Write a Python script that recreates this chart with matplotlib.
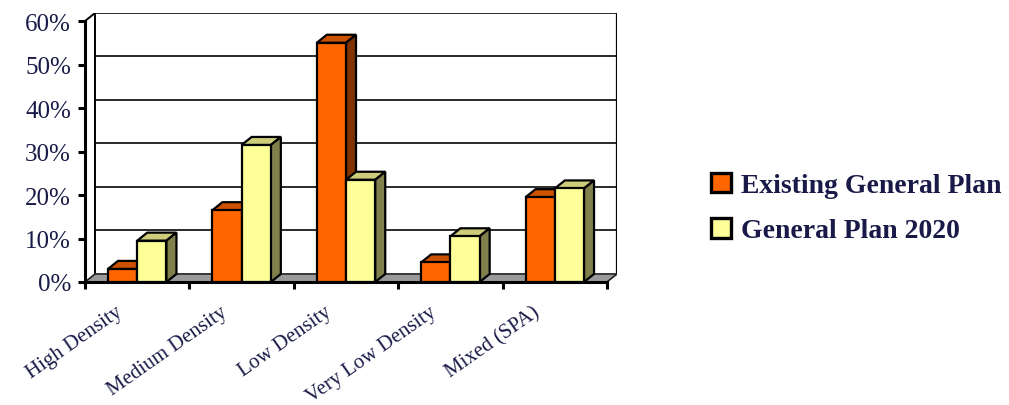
import matplotlib
matplotlib.use("Agg")
import matplotlib.pyplot as plt
from matplotlib.patches import Polygon, Patch
from matplotlib.transforms import offset_copy

# ── Data ──────────────────────────────────────────────────────────────────────
CATEGORIES = ["High Density", "Medium Density", "Low Density",
              "Very Low Density", "Mixed (SPA)"]
SERIES = ["Existing General Plan", "General Plan 2020"]
EXISTING = [3.0, 16.5, 55.0, 4.5, 19.5]
PLAN_2020 = [9.5, 31.5, 23.5, 10.5, 21.5]
Y_TICKS = [0, 10, 20, 30, 40, 50, 60]
Y_LABELS = ["0%", "10%", "20%", "30%", "40%", "50%", "60%"]

# ── Style ─────────────────────────────────────────────────────────────────────
FRONT = ["#FF6600", "#FFFF99"]
TOP = ["#CC5200", "#CCCC7A"]
SIDE = ["#803300", "#80804C"]
TEXT = "#1a1a48"
SERIF = ["Liberation Serif", "DejaVu Serif"]
DX, DY = 0.096, 1.85          # depth of the pseudo-3D box, in data units
BAR_W = 0.28
EDGE_LW = 1.6

fig = plt.figure(figsize=(10.09, 4.06), dpi=100)
ax = fig.add_axes([85 / 1009, 123 / 406, 532 / 1009, 269 / 406])
n = len(CATEGORIES)
ax.set_xlim(0, n + DX)
ax.set_ylim(0, Y_TICKS[-1] + DY)

# back wall, gridlines and floor
for v in Y_TICKS[1:]:
    ax.plot([DX, n + DX], [v + DY, v + DY], color="#2a2a2a", lw=1.4, zorder=1)
ax.plot([DX, DX], [DY, Y_TICKS[-1] + DY], color="black", lw=1.4, zorder=1)
ax.plot([n + DX, n + DX], [DY, Y_TICKS[-1] + DY], color="black", lw=1.6, zorder=1)
ax.plot([0, DX], [Y_TICKS[-1], Y_TICKS[-1] + DY], color="black", lw=1.4, zorder=1)
floor = Polygon([(0, 0), (n, 0), (n + DX, DY), (DX, DY)], closed=True,
                facecolor="#9a9a9a", edgecolor="#222222", lw=1.2, zorder=1)
ax.add_patch(floor)

# bars with top and side faces
for s, vals in enumerate([EXISTING, PLAN_2020]):
    xs = [i + 0.5 - BAR_W + s * BAR_W for i in range(n)]
    z = 3 + s * 3
    ax.bar(xs, vals, width=BAR_W, align="edge", color=FRONT[s],
           edgecolor="black", lw=EDGE_LW, zorder=z + 2)
    for x0, v in zip(xs, vals):
        top = Polygon([(x0, v), (x0 + BAR_W, v), (x0 + BAR_W + DX, v + DY),
                       (x0 + DX, v + DY)], closed=True, facecolor=TOP[s],
                      edgecolor="black", lw=EDGE_LW, zorder=z)
        side = Polygon([(x0 + BAR_W, 0), (x0 + BAR_W + DX, DY),
                        (x0 + BAR_W + DX, v + DY), (x0 + BAR_W, v)], closed=True,
                       facecolor=SIDE[s], edgecolor="black", lw=EDGE_LW, zorder=z)
        ax.add_patch(top)
        ax.add_patch(side)

# axes
for sp in ["top", "right"]:
    ax.spines[sp].set_visible(False)
ax.spines["left"].set_bounds(0, Y_TICKS[-1])
ax.spines["bottom"].set_bounds(0, n)
for sp in ["left", "bottom"]:
    ax.spines[sp].set_linewidth(2.2)
    ax.spines[sp].set_zorder(20)
ax.set_yticks(Y_TICKS)
ax.set_yticklabels(Y_LABELS, family=SERIF, fontsize=18, color=TEXT)
ax.set_xticks(range(n + 1))
ax.set_xticklabels([])
ax.tick_params(axis="both", direction="out", length=5, width=2.2, color="black")
ax.tick_params(axis="y", pad=5)

# rotated category labels
lab_trans = offset_copy(ax.get_xaxis_transform(), fig=fig, y=-20, units="dots")
for i, name in enumerate(CATEGORIES):
    ax.text(i + 0.29, 0, name, transform=lab_trans, rotation=35,
            rotation_mode="anchor", ha="right", va="top",
            family=SERIF, fontsize=15, color=TEXT)

# legend
handles = [Patch(facecolor=FRONT[s], edgecolor="black", lw=2.4) for s in range(2)]
leg = fig.legend(handles, SERIES, loc="center left",
                 bbox_to_anchor=(686 / 1009, 1 - 209 / 406), frameon=False,
                 handlelength=0.72, handleheight=0.72, handletextpad=0.35,
                 labelspacing=0.7,
                 prop={"family": SERIF, "weight": "bold", "size": 20})
for t in leg.get_texts():
    t.set_color(TEXT)

fig.savefig("out.png", dpi=100)
